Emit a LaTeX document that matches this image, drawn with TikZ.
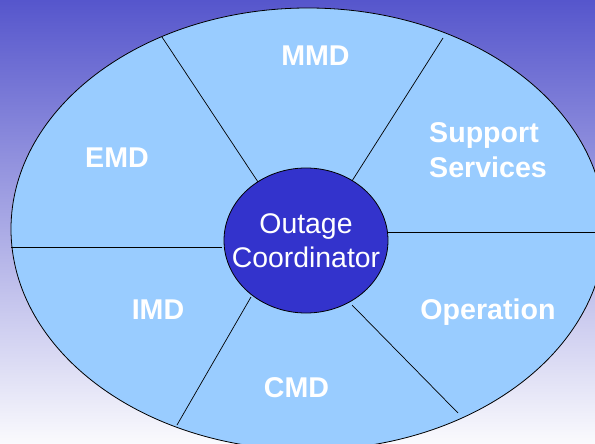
\documentclass[tikz,border=0pt]{standalone}
\usepackage{fontspec}
\setmainfont{Liberation Sans}
\usetikzlibrary{shapes.geometric}
\definecolor{bgtop}{RGB}{86,86,204}
\definecolor{bgmid}{RGB}{176,174,226}
\definecolor{bgbot}{RGB}{250,250,253}
\definecolor{segfill}{RGB}{153,204,255}
\definecolor{hubfill}{RGB}{51,51,204}
\begin{document}
\begin{tikzpicture}[x=1pt,y=-1pt,
  lbl/.style={text=white,font=\fontsize{28.6}{34.5}\selectfont\bfseries,inner sep=0pt},
  hubtxt/.style={text=white,font=\fontsize{28.4}{34}\selectfont,inner sep=0pt,align=center},
  spoke/.style={draw=black,line width=0.7pt},
  ring/.style={ellipse,draw=black,line width=0.8pt,inner sep=0pt}]
\path[use as bounding box] (0,0) rectangle (595,444);
\shade[top color=bgtop, middle color=bgmid, bottom color=bgbot] (0,0) rectangle (595,444);
\begin{scope}
\clip (0,0) rectangle (595,444);
\node[ring, fill=segfill, minimum width=594pt, minimum height=442pt] (outer) at (308,229) {};
\coordinate (a1) at (258,182); \coordinate (b1) at (162,37);
\coordinate (a2) at (352,181); \coordinate (b2) at (443,38);
\coordinate (a3) at (386,232); \coordinate (b3) at (600,232);
\coordinate (a4) at (222,247); \coordinate (b4) at (11,247);
\coordinate (a5) at (251,297); \coordinate (b5) at (177,425);
\coordinate (a6) at (352,305); \coordinate (b6) at (458,413);
\draw[spoke] (a1) -- (b1);
\draw[spoke] (a2) -- (b2);
\draw[spoke] (a3) -- (b3);
\draw[spoke] (a4) -- (b4);
\draw[spoke] (a5) -- (b5);
\draw[spoke] (a6) -- (b6);
\node[ring, fill=hubfill, minimum width=164pt, minimum height=145pt] (hub) at (306,240.5) {};
\node[hubtxt] (hubtext) at (hub.center) {Outage\\Coordinator};
\end{scope}
\node[lbl, anchor=base] (mmd) at (315.5,66) {MMD};
\node[lbl, anchor=base] (emd) at (117,167) {EMD};
\node[lbl, align=left, anchor=west] (sup) at (429,150.3) {Support\\Services};
\node[lbl, anchor=base] (imd) at (158,319) {IMD};
\node[lbl, anchor=base] (op) at (488,319) {Operation};
\node[lbl, anchor=base] (cmd) at (296.5,397) {CMD};
\end{tikzpicture}
\end{document}
